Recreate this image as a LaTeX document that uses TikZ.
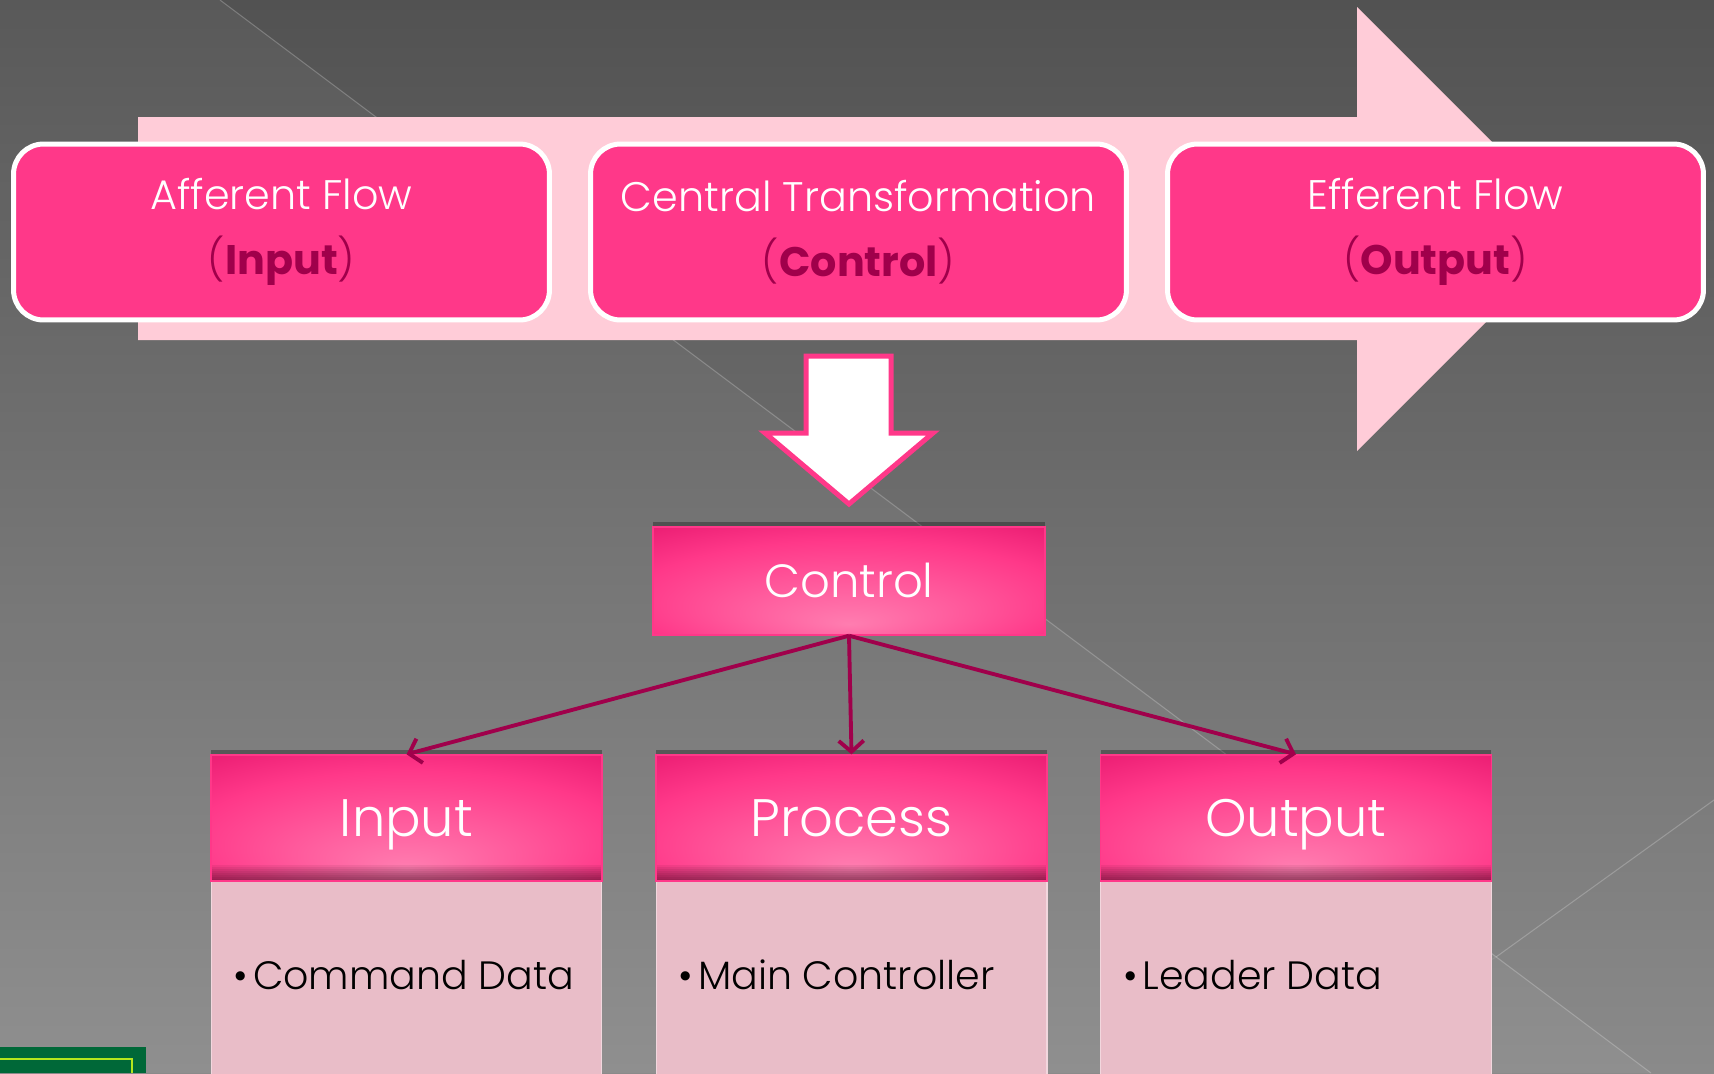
\documentclass[tikz,border=0pt]{standalone}
\usepackage{fontspec}
\IfFontExistsTF{Poppins Light}
  {\setmainfont{Poppins}[UprightFont=* Light, BoldFont=* Bold]}
  {\setmainfont{Poppins}}
\usetikzlibrary{arrows.meta,shadows,positioning}

\definecolor{bgtop}{HTML}{525252}
\definecolor{bgbot}{HTML}{8A8A8A}
\definecolor{hotpink}{HTML}{FF3889}
\definecolor{palepink}{HTML}{FFCCD8}
\definecolor{deeppink}{HTML}{A0004B}
\definecolor{rosebody}{HTML}{E9BDC8}
\definecolor{pinkdark}{HTML}{D5005B}
\definecolor{pinklight}{HTML}{FF7DB0}
\definecolor{greenbox}{HTML}{006838}
\definecolor{limeline}{HTML}{B5E61D}

% glow of the pink headers, lighter at the bottom middle
\pgfdeclareradialshading{pinkglow}{\pgfpoint{0bp}{-20bp}}{color(0bp)=(pinklight); color(28bp)=(hotpink); color(52bp)=(pinkdark)}

\tikzset{
  flowbox/.style={rounded corners=0.6cm, fill=hotpink, draw=white, line width=0.1cm,
    minimum width=10.72cm, minimum height=3.52cm, align=center, text=white,
    font=\fontsize{23.5}{37}\selectfont},
  ctrlbox/.style={shading=pinkglow, draw=hotpink, line width=0.8pt,
    minimum width=7.84cm, minimum height=2.16cm, text=white,
    text height=0.64cm, text depth=0pt,
    font=\fontsize{26.5}{30}\selectfont,
    drop shadow={shadow xshift=0pt, shadow yshift=3pt, opacity=.3, fill=black}},
  headbox/.style={ctrlbox, minimum width=7.82cm, minimum height=2.52cm,
    text height=0.74cm, font=\fontsize{30}{34}\selectfont,
    path picture={\foreach \k in {1,...,8}
      \fill[black, opacity=.06] (path picture bounding box.south west) rectangle
      ([yshift=\k*0.04cm]path picture bounding box.south east);}},
  bodybox/.style={fill=rosebody, draw=rosebody!60!white, line width=0.6pt,
    minimum width=7.82cm, minimum height=4cm},
  itemtext/.style={anchor=west, text=black, inner sep=0pt, font=\fontsize{22.5}{28}\selectfont},
  link/.style={draw=deeppink, line width=2.2pt, -{Straight Barb[length=2.2mm,width=5mm]}}
}

\begin{document}
\begin{tikzpicture}[x=0.02cm, y=-0.02cm]
    \useasboundingbox (0,0) rectangle (1714,1073);
    \clip (0,0) rectangle (1714,1073);

    % Background with its thin diagonal lines
    \shade[top color=bgtop, bottom color=bgbot] (0,0) rectangle (1714,1073);
    \fill[white, opacity=.045] (0,0) -- (220,0) -- (1651,1073) -- (0,1073) -- cycle;
    \draw[white, opacity=.22, line width=0.6pt] (220,0) -- (1651,1073);
    \draw[white, opacity=.22, line width=0.6pt] (1714,800) -- (1496,957);
    \draw[white, opacity=.08, line width=0.6pt] (1496,957) -- (1300,1073);

    % Big pale arrow behind the three flows
    \fill[palepink] (138,117) -- (1357,117) -- (1357,7) -- (1579,229)
        -- (1357,451) -- (1357,340) -- (138,340) -- cycle;

    % Flow boxes
    \foreach \x/\nm/\lineA/\kind in {281.5/fa/Afferent Flow/Input,
        858.5/fc/Central Transformation/Control, 1435.5/fe/Efferent Flow/Output} {
        \node[flowbox] (\nm) at (\x,232)
            {\lineA\\{\color{deeppink}(\textbf{\kind})}};
    }

    % Down arrow to the control box
    \draw[hotpink, fill=white, line width=0.1cm, line join=miter]
        (806,356) -- (891,356) -- (891,433) -- (933,433) -- (849,504)
        -- (765,433) -- (806,433) -- cycle;

    % Control and the three columns
    \node[ctrlbox] (ctrl) at (849,581) {Control};

    \foreach \x/\nm/\hd/\en in {406.5/hin/Input/Command Data,
        851.5/hpr/Process/Main Controller, 1296/hout/Output/Leader Data} {
        \node[bodybox, anchor=north] (\nm b) at (\x,881) {};
        \node[headbox] (\nm) at (\x,818) {\hd};
        \node[itemtext] (\nm t) at (\x-173,975) {\textbullet\hspace{0.12em}\en};
    }

    % Connectors from control
    \foreach \nm in {hin,hpr,hout}
        \draw[link] (ctrl.south) -- (\nm.north);

    % Cut off green badge at the bottom left
    \fill[greenbox] (0,1047) rectangle (146,1073);
    \draw[limeline, line width=1.5pt] (0,1059) -- (132,1059) -- (132,1073);
\end{tikzpicture}
\end{document}
